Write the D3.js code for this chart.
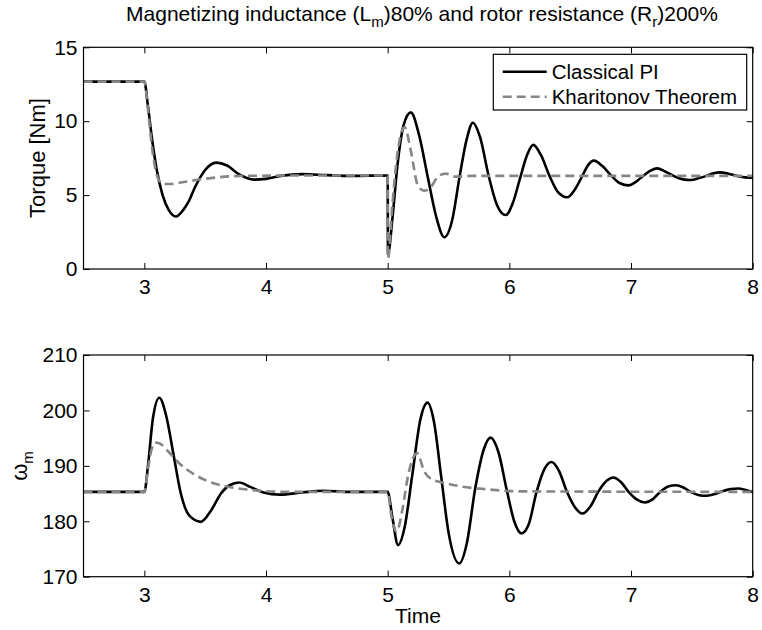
<!DOCTYPE html>
<html>
<head>
<meta charset="utf-8">
<script src="https://cdn.jsdelivr.net/npm/d3@7"></script>
<style>
  body { margin: 0; background: #fff; }
  svg { display: block; font-family: "Liberation Sans", Arial, sans-serif; }
</style>
</head>
<body>
<div id="chart"></div>
<script>
// torque, classical PI
const tTqPI = [2.5, 3.0, 3.03, 3.06, 3.1, 3.15, 3.2, 3.26, 3.32, 3.36, 3.42, 3.5, 3.59, 3.68, 3.78, 3.9, 4.0, 4.12, 4.3, 4.5, 4.7, 5.0,
  5.002, 5.04, 5.08, 5.13, 5.19, 5.26, 5.33, 5.4, 5.465, 5.53, 5.59, 5.65, 5.70, 5.76, 5.83, 5.90, 5.97, 6.03, 6.09, 6.145, 6.196,
  6.26, 6.33, 6.40, 6.475, 6.54, 6.60, 6.645, 6.695, 6.76, 6.84, 6.91, 6.98, 7.04, 7.10, 7.16, 7.215, 7.28, 7.35, 7.42, 7.49,
  7.56, 7.62, 7.68, 7.73, 7.80, 7.87, 7.94, 8.0];
const tqPI = [12.68, 12.68, 11.0, 9.0, 6.8, 5.0, 4.0, 3.55, 4.0, 4.5, 5.6, 6.7, 7.2, 7.0, 6.4, 6.05, 6.1, 6.3, 6.42, 6.35, 6.3, 6.33,
  1.0, 3.5, 7.0, 9.7, 10.6, 9.0, 6.2, 3.5, 2.15, 3.3, 6.2, 8.8, 9.9, 8.9, 6.3, 4.3, 3.65, 4.5, 6.2, 7.7, 8.4,
  7.7, 6.3, 5.2, 4.85, 5.4, 6.3, 7.0, 7.33, 7.0, 6.3, 5.8, 5.66, 5.9, 6.3, 6.65, 6.81, 6.6, 6.3, 6.08, 6.02,
  6.15, 6.3, 6.48, 6.54, 6.45, 6.3, 6.2, 6.18];

// torque, Kharitonov
const tTqKh = [2.5, 3.0, 3.03, 3.06, 3.09, 3.12, 3.16, 3.22, 3.3, 3.45, 3.6, 3.8, 4.5, 5.0,
  5.002, 5.04, 5.08, 5.14, 5.19, 5.25, 5.3, 5.35, 5.42, 5.48, 5.56, 5.7, 8.0];
const tqKh = [12.68, 12.68, 10.8, 8.4, 6.8, 6.0, 5.75, 5.75, 5.85, 6.05, 6.2, 6.3, 6.33, 6.33,
  0.7, 4.5, 7.8, 9.6, 8.0, 5.6, 5.3, 5.5, 6.3, 6.45, 6.25, 6.3, 6.3];

// speed, classical PI
const tWPI = [2.5, 3.0, 3.03, 3.07, 3.123, 3.18, 3.24, 3.3, 3.37, 3.463, 3.55, 3.63, 3.7, 3.78, 3.87, 3.98, 4.115, 4.3, 4.47, 4.7, 5.0,
  5.04, 5.085, 5.14, 5.2, 5.27, 5.327, 5.38, 5.44, 5.5, 5.588, 5.65, 5.72, 5.79, 5.846, 5.91, 5.98, 6.04, 6.10, 6.16, 6.22, 6.29,
  6.347, 6.41, 6.47, 6.54, 6.60, 6.67, 6.73, 6.80, 6.853, 6.92, 6.98, 7.05, 7.113, 7.18, 7.24, 7.31, 7.368, 7.43, 7.49, 7.56,
  7.62, 7.69, 7.75, 7.82, 7.88, 7.95, 8.0];
const wPI = [185.3, 185.3, 190, 198.5, 202.3, 199, 192, 185, 181, 179.9, 182, 185, 186.5, 187.0, 186.2, 185.2, 184.8, 185.2, 185.5, 185.3, 185.3,
  180.5, 175.7, 179, 188, 198.5, 201.4, 198, 188, 178, 172.4, 176, 186, 193, 195.1, 192.5, 185.5, 180, 177.8, 179.5, 185, 189.5,
  190.7, 189, 185.5, 182.5, 181.4, 182.8, 185.3, 187.3, 187.9, 187, 185.3, 183.9, 183.4, 184, 185.3, 186.3, 186.5, 186.1, 185.3, 184.7,
  184.6, 184.9, 185.4, 185.8, 185.9, 185.6, 185.3];

// speed, Kharitonov
const tWKh = [2.5, 3.0, 3.03, 3.06, 3.087, 3.13, 3.2, 3.3, 3.4, 3.55, 3.7, 3.9, 4.2, 5.0,
  5.03, 5.074, 5.12, 5.17, 5.243, 5.3, 5.36, 5.45, 5.6, 5.8, 6.1, 8.0];
const wKh = [185.3, 185.3, 189.5, 193, 194.2, 194, 192.5, 190.2, 188.6, 187.0, 186.2, 185.6, 185.3, 185.3,
  181, 178.1, 182, 188.5, 192.3, 189, 187.6, 187.0, 186.3, 185.8, 185.4, 185.3];

const xTicks = [3, 4, 5, 6, 7, 8];
const tqTicks = [0, 5, 10, 15];
const wTicks = [170, 180, 190, 200, 210];
const seriesNames = ["Classical PI", "Kharitonov Theorem"];

const width = 762, height = 630;
const left = 83.5, right = 752.7;
const gray = "#868686";
const fs = 21;

const svg = d3.select("#chart").append("svg")
  .attr("width", width)
  .attr("height", height);

svg.append("rect").attr("width", width).attr("height", height).attr("fill", "#fff");

const x = d3.scaleLinear().domain([2.5, 8]).range([left, right]);

function panel(top, bottom, yDomain, yTicks, lines) {
  const y = d3.scaleLinear().domain(yDomain).range([bottom, top]);
  const g = svg.append("g");

  const line = d3.line()
    .x(d => x(d[0]))
    .y(d => y(d[1]))
    .curve(d3.curveMonotoneX);

  lines.forEach(l => {
    g.append("path")
      .datum(d3.zip(l.t, l.v))
      .attr("fill", "none")
      .attr("stroke", l.color)
      .attr("stroke-width", 2.6)
      .attr("stroke-dasharray", l.dash || null)
      .attr("d", line);
  });

  const ax = (a) => a.tickSizeInner(-6).tickSizeOuter(0);

  g.append("g")
    .attr("transform", `translate(0,${bottom})`)
    .call(ax(d3.axisBottom(x).tickValues(xTicks).tickFormat(d3.format("d")).tickPadding(10)));
  g.append("g")
    .attr("transform", `translate(0,${top})`)
    .call(ax(d3.axisTop(x).tickValues(xTicks).tickFormat("")));
  g.append("g")
    .attr("transform", `translate(${left},0)`)
    .call(ax(d3.axisLeft(y).tickValues(yTicks).tickFormat(d3.format("d")).tickPadding(6)));
  g.append("g")
    .attr("transform", `translate(${right},0)`)
    .call(ax(d3.axisRight(y).tickValues(yTicks).tickFormat("")));

  g.selectAll(".domain").remove();
  g.selectAll(".tick line").attr("stroke", "#000").attr("stroke-width", 1);
  g.selectAll(".tick text").attr("font-size", fs).attr("fill", "#000")
    .attr("font-family", "Liberation Sans, Arial, sans-serif");

  g.append("rect")
    .attr("x", left).attr("y", top)
    .attr("width", right - left).attr("height", bottom - top)
    .attr("fill", "none").attr("stroke", "#000").attr("stroke-width", 1.2);

  return y;
}

// top: torque
panel(47.3, 269, [0, 15], tqTicks, [
  { t: tTqPI, v: tqPI, color: "#000" },
  { t: tTqKh, v: tqKh, color: gray, dash: "9,5" }
]);

// bottom: speed
panel(355, 576.7, [170, 210], wTicks, [
  { t: tWPI, v: wPI, color: "#000" },
  { t: tWKh, v: wKh, color: gray, dash: "9,5" }
]);

// title
const title = svg.append("text")
  .attr("x", 422).attr("y", 21)
  .attr("text-anchor", "middle")
  .attr("font-size", 21);
title.append("tspan").text("Magnetizing inductance (L");
title.append("tspan").attr("dy", 6).attr("font-size", 15).text("m");
title.append("tspan").attr("dy", -6).text(")80% and rotor resistance (R");
title.append("tspan").attr("dy", 6).attr("font-size", 15).text("r");
title.append("tspan").attr("dy", -6).text(")200%");

// y labels
svg.append("text")
  .attr("transform", "translate(45,158) rotate(-90)")
  .attr("text-anchor", "middle")
  .attr("font-size", 22)
  .text("Torque [Nm]");

const wl = svg.append("text")
  .attr("transform", "translate(27,466) rotate(-90)")
  .attr("text-anchor", "middle")
  .attr("font-size", 22);
wl.append("tspan").text("ω");
wl.append("tspan").attr("dy", 6).attr("font-size", 15).text("m");

// x label
svg.append("text")
  .attr("x", 418).attr("y", 623)
  .attr("text-anchor", "middle")
  .attr("font-size", fs)
  .text("Time");

// legend
const lg = svg.append("g");
lg.append("rect")
  .attr("x", 493.3).attr("y", 54.3)
  .attr("width", 253.4).attr("height", 55.7)
  .attr("fill", "#fff").attr("stroke", "#000").attr("stroke-width", 1.2);

seriesNames.forEach((name, i) => {
  const yy = 71.7 + i * 25;
  lg.append("line")
    .attr("x1", 502.7).attr("x2", 546.7)
    .attr("y1", yy).attr("y2", yy)
    .attr("stroke", i === 0 ? "#000" : gray)
    .attr("stroke-width", 2.6)
    .attr("stroke-dasharray", i === 0 ? null : "9,5");
  lg.append("text")
    .attr("x", 551.7).attr("y", yy)
    .attr("dy", "0.35em")
    .attr("font-size", 20.5)
    .text(name);
});
</script>
</body>
</html>
